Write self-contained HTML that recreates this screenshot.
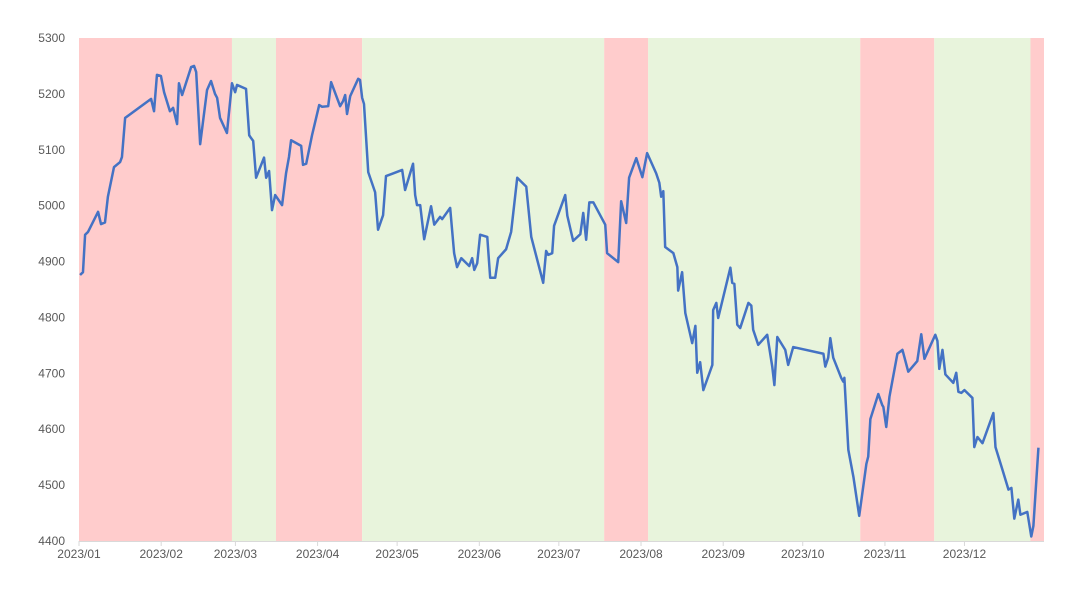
<!DOCTYPE html>
<html><head><meta charset="utf-8"><style>
html,body{margin:0;padding:0;background:#fff;}
svg text{font-family:"Liberation Sans",sans-serif;font-size:12px;fill:#595959;}
</style></head><body>
<svg id="chart" width="1080" height="603" xmlns="http://www.w3.org/2000/svg"></svg>
<script>
const days=[0.4,1.5,2.3,3.4,7.2,8.3,9.8,10.9,13.2,15.5,16.2,17.4,27.2,28.3,29.4,30.9,32.1,34.3,35.5,37,37.7,38.9,42.3,43.4,44.2,45.7,48.3,49.8,51.3,52.1,53.2,55.8,57.7,58.9,59.6,63,64.2,64.9,65.7,66.8,69.8,70.6,71.7,72.8,74,76.6,78.1,79.2,80,83.8,84.5,85.7,87.9,90.6,91.7,94,95.1,98.5,99.6,100.4,101.1,102.3,105.3,106,106.8,107.5,109.1,111.7,112.8,114.7,115.8,118.1,121.9,123,126,126.8,127.5,128.7,130.2,132.8,134,136.2,137,140,141.5,142.6,144.2,147.2,148.3,149.1,150.2,151.3,154,155.1,157,158.1,161.1,163,165.3,168.7,170.6,175.1,176.2,177,178.5,179.2,183.4,184.2,186.4,189.1,190.2,191.3,192.5,194,198.5,199.2,203.4,204.5,206.4,207.5,210.2,212.5,214.3,217.7,218.9,219.6,220.4,221.1,224.2,225.7,226,227.5,228.7,231.3,232.5,233.2,234.3,235.5,238.9,239.2,240.4,241.1,245.7,246.4,247.2,248.3,249.4,252.5,253.6,254.3,256.2,259.6,261.5,262.3,263.4,266.4,267.5,269.4,280.8,281.5,282.6,283.4,284.5,287.5,288.3,288.7,290.2,292.1,294.3,297,297.7,298.5,301.5,303,303.4,304.5,305.7,308.7,310.6,312.8,316.2,317.7,318.9,323,323.8,324.5,325.7,326.8,329.8,330.9,331.7,332.8,334,337,337.7,338.9,340.8,344.9,345.7,348.3,350.6,351.7,352.8,354.3,355.1,357.7,359.2,360,361.9];
const values=[4876,4881,4948,4953,4989,4967,4970,5016,5069,5078,5087,5157,5191,5169,5234,5232,5203,5169,5175,5146,5219,5198,5248,5250,5239,5110,5207,5223,5200,5193,5157,5130,5219,5203,5216,5209,5126,5121,5116,5050,5086,5050,5062,4992,5019,5001,5058,5087,5117,5107,5073,5075,5126,5180,5177,5178,5221,5178,5187,5198,5164,5196,5227,5225,5193,5182,5060,5024,4957,4983,5053,5057,5064,5028,5075,5019,5001,5001,4940,4999,4966,4980,4976,4996,4915,4890,4906,4892,4906,4885,4897,4948,4944,4871,4871,4906,4922,4953,5050,5034,4944,4862,4919,4912,4915,4964,5019,4982,4937,4949,4987,4939,5006,5006,4966,4915,4899,5008,4969,5050,5085,5051,5094,5058,5041,5016,5026,4926,4915,4890,4848,4881,4808,4754,4785,4701,4720,4670,4715,4813,4826,4799,4889,4862,4860,4787,4781,4826,4821,4778,4751,4769,4712,4679,4765,4742,4715,4747,4735,4712,4728,4763,4728,4692,4685,4692,4563,4515,4445,4538,4551,4618,4663,4643,4640,4604,4658,4735,4742,4703,4722,4770,4726,4769,4758,4708,4742,4698,4683,4701,4667,4665,4670,4656,4568,4586,4575,4629,4568,4528,4492,4495,4440,4474,4447,4452,4408,4427,4567];
const bandStarts=[0,57.7,74.3,106.8,198.1,214.7,294.7,322.6,358.9];
const bandEnds=[57.7,74.3,106.8,198.1,214.7,294.7,322.6,358.9,364];
const bandTypes=["up","down","up","down","up","down","up","down","up"];
const yTicks=[4400,4500,4600,4700,4800,4900,5000,5100,5200,5300];
const monthDays=[0,31,59,90,120,151,181,212,243,273,304,334];
const monthLabels=["2023/01","2023/02","2023/03","2023/04","2023/05","2023/06","2023/07","2023/08","2023/09","2023/10","2023/11","2023/12"];

const NS="http://www.w3.org/2000/svg";
const svg=document.getElementById('chart');
const L=79,R=1044,T=38,B=541;
const xS=d=>L+d/364*(R-L);
const yS=v=>B-(v-4400)/900*(B-T);
function mk(t,a){const e=document.createElementNS(NS,t);for(const k in a)e.setAttribute(k,a[k]);svg.appendChild(e);return e;}
bandStarts.forEach((s,i)=>{
  const r=mk('rect',{x:xS(s),y:T,width:xS(bandEnds[i])-xS(s),height:B-T,fill:bandTypes[i]==='up'?'#ffcccc':'#e8f4dc'});
  
  
});
yTicks.forEach(v=>{
  const t=mk('text',{x:65,y:yS(v)+4,'text-anchor':'end'});t.textContent=v;
  
  
});
const ax=mk('line',{x1:L,x2:R,y1:B+0.5,y2:B+0.5,stroke:'#d9d9d9','stroke-width':1});


monthDays.forEach((d,i)=>{
  const tk=mk('line',{x1:xS(d),x2:xS(d),y1:B,y2:B+5,stroke:'#d9d9d9'});
  
  
  const t=mk('text',{x:xS(d),y:B+17,'text-anchor':'middle'});t.textContent=monthLabels[i];
  
  
});
const p=mk('polyline',{points:days.map((d,i)=>xS(d)+','+yS(values[i])).join(' '),fill:'none',stroke:'#4472c4','stroke-width':2.5,'stroke-linejoin':'round'});


</script>
</body></html>
